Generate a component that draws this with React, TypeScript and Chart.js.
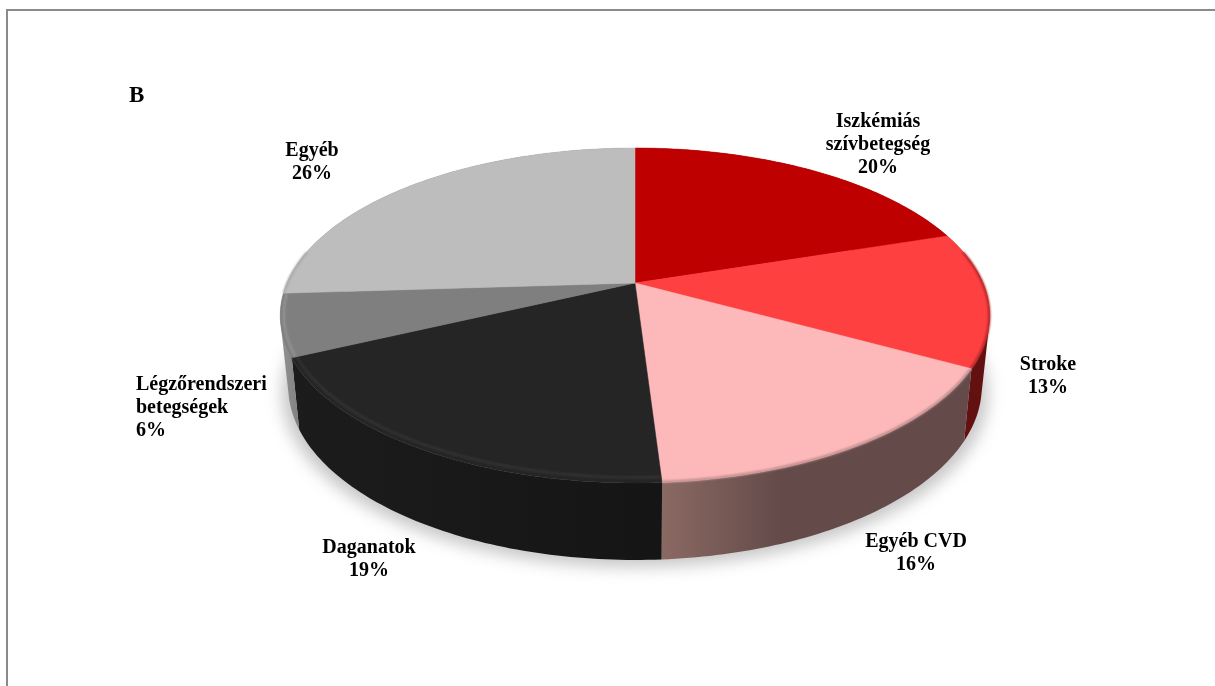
import React, { useEffect, useRef } from "react";
import { Chart, registerables } from "chart.js";

Chart.register(...registerables);

// Death-cause shares, listed clockwise from twelve o'clock.
const categories = ["Iszkémiás szívbetegség", "Stroke", "Egyéb CVD", "Daganatok", "Légzőrendszeri betegségek", "Egyéb"];
const shares = [20, 13, 16, 19, 6, 26];
const categoryLines = [["Iszkémiás", "szívbetegség"], ["Stroke"], ["Egyéb CVD"], ["Daganatok"], ["Légzőrendszeri", "betegségek"], ["Egyéb"]];
const panelLetter = "B";

const faceColors = ["#BE0000", "#FF4040", "#FDB9B9", "#252525", "#7F7F7F", "#BDBDBD"];
const wallColors = [
  ["#7a0000", "#7a0000"],
  ["#6f1212", "#621010"],
  ["#8a6962", "#644b4a"],
  ["#1c1c1c", "#151515"],
  ["#929292", "#808080"],
  ["#777777", "#777777"],
];
const rimColors = ["#8e0000", "#a82626", "#b58686", "#353535", "#959595", "#a8a8a8"];
const rimInsets = [0, 0, 0, 4, 3, 0];

// Screen placement of each slice caption: [x, first line centre y, canvas text alignment].
const captionSpots: [number, number, CanvasTextAlign][] = [
  [878, 122, "center"],
  [1048, 365, "center"],
  [916, 542, "center"],
  [369, 548, "center"],
  [136, 385, "left"],
  [312, 151, "center"],
];

const FONT = 'bold 20px "Liberation Serif", serif';
const LETTER_FONT = 'bold 23px "Liberation Serif", serif';
const LINE_HEIGHT = 23;

// Perspective view of a flat disc: unit-circle (u, v) maps to the screen through a homography.
type Disc = { cx: number; cy: number; rx: number; ry: number; k: number };
const topDisc: Disc = { cx: 635, cy: 283, rx: 348, ry: 161.2, k: 0.194 };
const baseDisc: Disc = { cx: 635, cy: 352, rx: 340, ry: 167, k: 0.197 };

const project = (d: Disc, angle: number): [number, number] => {
  const u = Math.cos(angle);
  const v = Math.sin(angle);
  const w = 1 - d.k * v;
  return [d.cx + (d.rx * u) / w, d.cy + (d.ry * v) / w];
};

const traceRim = (ctx: CanvasRenderingContext2D, d: Disc, a0: number, a1: number, move: boolean) => {
  const steps = Math.max(4, Math.ceil(Math.abs(a1 - a0) * 60));
  for (let i = 0; i <= steps; i++) {
    const [x, y] = project(d, a0 + ((a1 - a0) * i) / steps);
    if (i === 0 && move) ctx.moveTo(x, y);
    else ctx.lineTo(x, y);
  }
};

// Adds one wall quad to the current path, always wound the same way so the quads union cleanly.
const addQuad = (ctx: CanvasRenderingContext2D, pts: [number, number][]) => {
  let area = 0;
  pts.forEach(([x, y], n) => {
    const [nx, ny] = pts[(n + 1) % pts.length];
    area += x * ny - nx * y;
  });
  const ordered = area < 0 ? [...pts].reverse() : pts;
  ordered.forEach(([x, y], n) => (n ? ctx.lineTo(x, y) : ctx.moveTo(x, y)));
  ctx.closePath();
};

// Only the part of the rim facing the viewer carries a bevel.
const FRONT_FROM = -0.2;
const FRONT_TO = Math.PI + 0.2;

const pie3d = {
  id: "pie3d",
  beforeDatasetsDraw(chart: any) {
    const ctx: CanvasRenderingContext2D = chart.ctx;
    const arcs = chart.getDatasetMeta(0).data;

    // Soft shadow under the base of the disc.
    ctx.save();
    ctx.filter = "blur(8px)";
    ctx.fillStyle = "rgba(120,120,120,0.42)";
    ctx.beginPath();
    traceRim(ctx, { ...baseDisc, cy: baseDisc.cy + 7, rx: baseDisc.rx + 6 }, 0, Math.PI * 2, true);
    ctx.closePath();
    ctx.fill();
    ctx.restore();

    // Outer walls: thin quads between the top rim and the base rim, one path per slice.
    arcs.forEach((arc: any, i: number) => {
      const { startAngle: a0, endAngle: a1 } = arc;
      const grad = ctx.createLinearGradient(i === 2 ? 662 : 280, 0, i === 2 ? 780 : i === 4 ? 300 : 660, 0);
      grad.addColorStop(0, wallColors[i][0]);
      grad.addColorStop(1, wallColors[i][1]);
      ctx.fillStyle = grad;
      ctx.beginPath();
      const steps = Math.ceil((a1 - a0) * 60);
      for (let s = 0; s < steps; s++) {
        const b0 = a0 + ((a1 - a0) * s) / steps;
        const b1 = a0 + ((a1 - a0) * (s + 1)) / steps;
        addQuad(ctx, [project(topDisc, b0), project(topDisc, b1), project(baseDisc, b1), project(baseDisc, b0)]);
      }
      ctx.fill("nonzero");
    });

    // Top faces.
    arcs.forEach((arc: any, i: number) => {
      ctx.fillStyle = faceColors[i];
      ctx.strokeStyle = faceColors[i];
      ctx.lineWidth = 0.5;
      ctx.beginPath();
      ctx.moveTo(topDisc.cx, topDisc.cy);
      traceRim(ctx, topDisc, arc.startAngle, arc.endAngle, false);
      ctx.closePath();
      ctx.fill();
      ctx.stroke();
    });

    // Rounded bevel along the front rim of the slices.
    arcs.forEach((arc: any, i: number) => {
      const a0 = Math.max(arc.startAngle, FRONT_FROM);
      const a1 = Math.min(arc.endAngle, FRONT_TO);
      if (a1 <= a0) return;
      ctx.save();
      ctx.beginPath();
      ctx.moveTo(topDisc.cx, topDisc.cy);
      traceRim(ctx, { ...topDisc, rx: topDisc.rx + 3, ry: topDisc.ry + 3 }, arc.startAngle, arc.endAngle, false);
      ctx.closePath();
      ctx.clip();
      ctx.filter = "blur(1.2px)";
      ctx.strokeStyle = rimColors[i];
      ctx.lineWidth = 2.2;
      const inset = 0.5 + rimInsets[i];
      ctx.beginPath();
      traceRim(ctx, { ...topDisc, rx: topDisc.rx - inset, ry: topDisc.ry - inset }, a0, a1, true);
      ctx.stroke();
      ctx.restore();
    });

    // Slice captions and the panel letter.
    ctx.save();
    ctx.font = FONT;
    ctx.fillStyle = "#000";
    ctx.textBaseline = "middle";
    arcs.forEach((_: any, i: number) => {
      const [x, y, align] = captionSpots[i];
      ctx.textAlign = align;
      [...categoryLines[i], `${shares[i]}%`].forEach((line, n) => ctx.fillText(line, x, y + n * LINE_HEIGHT));
    });
    ctx.font = LETTER_FONT;
    ctx.textAlign = "left";
    ctx.fillText(panelLetter, 129, 96);
    ctx.restore();

    // The wedges have been painted here, so the stock arc drawing is skipped.
    return false;
  },
};

// Grey frame that runs off the right and bottom of the page.
const frame = {
  id: "frame",
  beforeDraw(chart: any) {
    const ctx: CanvasRenderingContext2D = chart.ctx;
    ctx.save();
    ctx.fillStyle = "#fff";
    ctx.fillRect(0, 0, chart.width, chart.height);
    ctx.strokeStyle = "#8a8a8a";
    ctx.lineWidth = 2;
    ctx.beginPath();
    ctx.moveTo(7, chart.height);
    ctx.lineTo(7, 10);
    ctx.lineTo(chart.width, 10);
    ctx.stroke();
    ctx.restore();
  },
};

export default function App() {
  const ref = useRef<HTMLCanvasElement>(null);
  useEffect(() => {
    const chart = new Chart(ref.current!, {
      type: "pie",
      data: { labels: categories, datasets: [{ data: shares, backgroundColor: faceColors, borderWidth: 0 }] },
      options: {
        animation: false,
        responsive: false,
        plugins: { legend: { display: false }, tooltip: { enabled: false } },
      },
      plugins: [frame, pie3d],
    } as any);
    return () => chart.destroy();
  }, []);
  return (
    <canvas
      ref={ref}
      width={1215}
      height={686}
      style={{ position: "fixed", left: 0, top: 0, width: 1215, height: 686, display: "block" }}
    />
  );
}
